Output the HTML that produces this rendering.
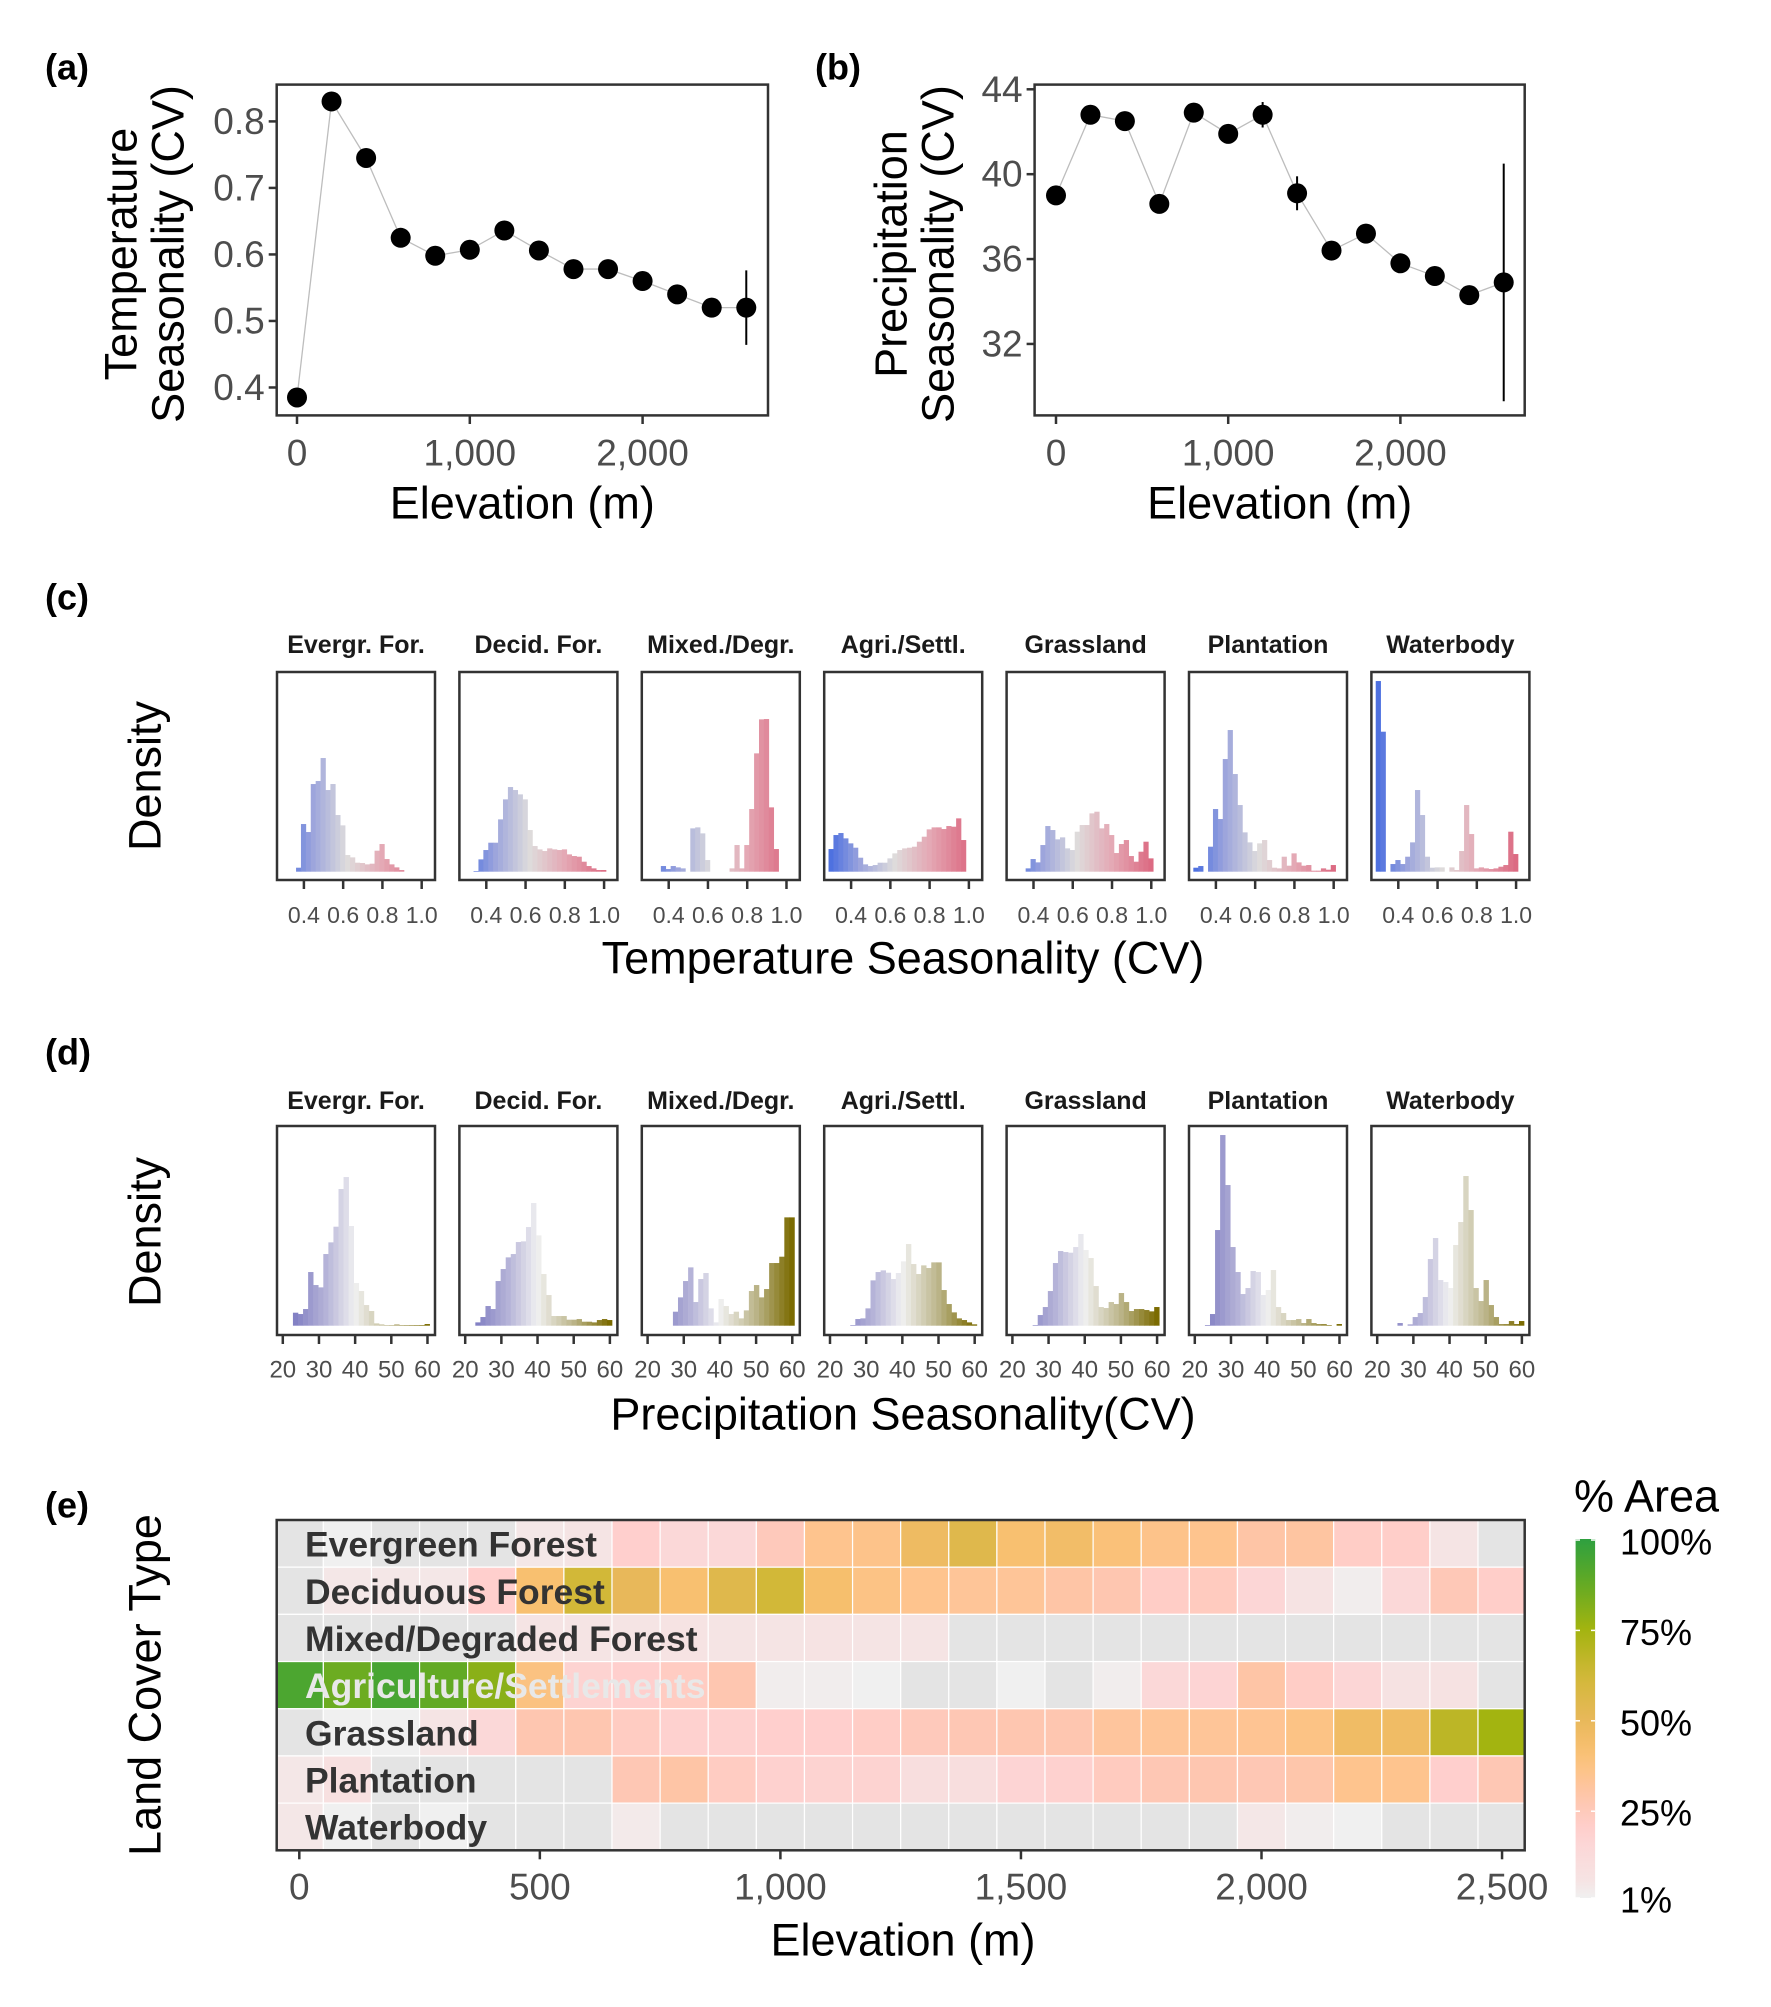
<!DOCTYPE html>
<html><head><meta charset="utf-8"><style>
html,body{margin:0;padding:0;background:#fff;}
svg{display:block;font-family:"Liberation Sans",sans-serif;}
</style></head><body>
<svg id="fig" width="1771" height="2007" viewBox="0 0 1771 2007"></svg>
<script>
// ---------- DATA ----------
const elev = [0,200,400,600,800,1000,1200,1400,1600,1800,2000,2200,2400,2600];
const tempSeason = [0.385,0.83,0.745,0.625,0.598,0.607,0.636,0.606,0.578,0.578,0.56,0.54,0.52,0.52];
const tempErr = [0,0,0,0,0,0,0,0,0,0,0,0,0,0.056];
const precSeason = [39.0,42.8,42.5,38.6,42.9,41.9,42.8,39.1,36.4,37.2,35.8,35.2,34.3,34.9];
const precErr = [0,0,0,0,0,0,0.6,0.8,0,0,0,0,0,5.6];
const ticksA = [0.4,0.5,0.6,0.7,0.8];
const ticksB = [32,36,40,44];
const ticksElev = [0,1000,2000];

const facets = ["Evergr. For.","Decid. For.","Mixed./Degr.","Agri./Settl.","Grassland","Plantation","Waterbody"];
const tBinStart = 0.285, tBinW = 0.025;
const tempHist = [
 [0,0,0,12,143,119,263,272,341,245,263,170,139,50,43,27,26,22,24,63,83,38,22,13,5],
 [0,0,2,37,65,87,87,157,217,254,245,232,217,125,77,67,62,70,67,65,67,52,47,45,30,17,10,5,5],
 [0,0,0,17,8,17,13,10,0,130,133,115,35,0,0,0,0,10,80,10,80,188,355,457,458,193,68],
 [68,110,116,100,85,72,42,22,17,20,27,27,40,55,65,70,72,75,90,105,127,133,133,128,137,135,160,95],
 [0,0,0,10,38,28,80,137,125,97,103,70,65,120,140,140,175,180,130,143,110,56,83,95,47,30,60,90,40],
 [12,17,0,75,188,158,338,425,293,200,118,88,62,85,95,35,12,10,45,18,55,28,18,20,3,3,10,6,20],
 [572,420,0,23,35,23,45,88,245,170,45,12,13,13,0,13,5,62,200,113,10,13,10,8,10,15,20,120,53]
];
const tTicks = [0.4,0.6,0.8,1.0];
const pBinStart = 22.8, pBinW = 1.4;
const precHist = [
 [39,35,50,161,122,115,215,250,297,410,446,299,128,104,62,44,7,4,2,2,4,2,2,2,2,2,5],
 [10,26,59,50,134,170,205,215,251,253,296,368,271,155,92,29,29,29,18,18,20,12,12,10,17,20,17],
 [0,0,0,42,85,134,175,71,140,158,52,10,80,59,35,42,22,46,104,122,85,110,188,188,207,325,325],
 [0,0,2,20,22,52,136,161,166,159,140,158,193,245,185,155,181,173,190,190,107,65,40,22,17,10,4],
 [0,0,2,32,56,104,188,224,221,219,236,275,227,203,119,56,53,71,65,98,71,44,50,50,47,43,56],
 [2,35,287,572,422,236,161,95,113,164,161,92,107,167,56,38,17,17,20,8,20,8,5,5,2,0,5],
 [0,0,8,0,4,26,38,86,200,263,137,131,113,242,311,449,347,113,74,137,62,26,5,5,14,5,14]
];
const pTicks = [20,30,40,50,60];

const landCover = ["Evergreen Forest","Deciduous Forest","Mixed/Degraded Forest","Agriculture/Settlements","Grassland","Plantation","Waterbody"];
const heatElev = [0,100,200,300,400,500,600,700,800,900,1000,1100,1200,1300,1400,1500,1600,1700,1800,1900,2000,2100,2200,2300,2400,2500];
const heatVals = [
 [null,0.01,null,null,null,0.04,0.05,0.2,0.15,0.15,0.25,0.35,0.36,0.47,0.55,0.42,0.45,0.40,0.36,0.35,0.30,0.31,0.22,0.21,0.05,null],
 [null,0.04,0.04,0.04,0.2,0.42,0.62,0.5,0.42,0.55,0.62,0.43,0.37,0.35,0.33,0.33,0.30,0.28,0.22,0.24,0.16,0.06,0.02,0.15,0.26,0.21],
 [null,null,null,null,null,0.05,0.05,0.05,0.06,0.05,0.05,0.06,0.05,0.05,null,null,null,null,null,null,null,null,null,null,null,null],
 [0.93,0.86,0.94,0.88,0.80,0.38,0.18,0.2,0.23,0.28,0.02,0.02,0.01,null,null,0.01,null,0.02,0.15,0.17,0.30,0.22,0.16,0.07,0.07,null],
 [null,0.01,0.01,0.05,0.15,0.28,0.28,0.23,0.19,0.19,0.2,0.2,0.22,0.25,0.27,0.28,0.28,0.32,0.33,0.33,0.34,0.37,0.46,0.46,0.68,0.75],
 [0.04,0.08,null,null,null,null,null,0.27,0.30,0.23,0.19,0.18,0.18,0.1,0.1,0.17,0.19,0.24,0.27,0.28,0.27,0.29,0.35,0.35,0.2,0.27],
 [0.04,0.01,null,0.01,null,null,null,0.03,null,null,null,null,null,null,null,null,null,null,null,null,0.04,0.02,0.01,null,null,null]
];
const heatTicks = [0,500,1000,1500,2000,2500];
const legendTicks = [1,25,50,75,100];

// ---------- HELPERS ----------
const svg = document.getElementById('fig');
const NS = 'http://www.w3.org/2000/svg';
function mk(tag, attrs, parent){ const e=document.createElementNS(NS,tag); for(const k in attrs) e.setAttribute(k,attrs[k]); (parent||svg).appendChild(e); return e; }
function txt(x,y,s,size,opts){ const o=Object.assign({x:x,y:y,'font-size':size,fill:'#000','text-anchor':'middle','dominant-baseline':'central'},opts||{}); const e=mk('text',o); e.textContent=s; return e; }
function hex(c){return [parseInt(c.slice(1,3),16),parseInt(c.slice(3,5),16),parseInt(c.slice(5,7),16)];}
function interp(stops,t){ if(t<=stops[0][0]) return stops[0][1]; for(let i=1;i<stops.length;i++){ if(t<=stops[i][0]){ const a=hex(stops[i-1][1]),b=hex(stops[i][1]); const f=(t-stops[i-1][0])/(stops[i][0]-stops[i-1][0]); return 'rgb('+a.map((v,j)=>Math.round(v+(b[j]-v)*f)).join(',')+')'; } } return stops[stops.length-1][1]; }
const heatStops=[[0.01,'#f0f0f0'],[0.05,'#f5e4e4'],[0.15,'#fbd8d8'],[0.2,'#ffcfcd'],[0.28,'#fec6b0'],[0.35,'#fec48e'],[0.42,'#f8c070'],[0.5,'#e8b85a'],[0.62,'#d2b838'],[0.75,'#a3b410'],[0.88,'#62aa24'],[1.0,'#2ea040']];
const tStops=[[0.29,'#4a6ee0'],[0.45,'#9ea6dc'],[0.62,'#dedcdc'],[0.8,'#e4a8b4'],[1.0,'#dc6a82']];
const pStops=[[22,'#7a78c0'],[32,'#b6b4d8'],[40,'#f0f0f0'],[50,'#bbb488'],[60,'#7a6a00']];

// ---------- PANEL LABELS ----------
[["(a)",45,67],["(b)",815,67],["(c)",45,597],["(d)",45,1052],["(e)",45,1505]].forEach(p=>{
  const t=txt(p[1],p[2],p[0],36,{'text-anchor':'start','font-weight':'bold'});
  
  
});

// ---------- PANEL A / B ----------
function scatterPanel(cfg){
  const g=mk('g',{});
  
  
  const xs=v=>cfg.x0+v*cfg.kx, ys=v=>cfg.y0+(cfg.ytop-v)*cfg.ky;
  mk('polyline',{points:elev.map((e,i)=>xs(e)+','+ys(cfg.vals[i])).join(' '),fill:'none',stroke:'#bdbdbd','stroke-width':1.3},g);
  elev.forEach((e,i)=>{
    if(cfg.err[i]>0){ const l=mk('line',{x1:xs(e),x2:xs(e),y1:ys(cfg.vals[i]-cfg.err[i]),y2:ys(cfg.vals[i]+cfg.err[i]),stroke:'#000','stroke-width':2},g);
      
       }
    const c=mk('circle',{cx:xs(e),cy:ys(cfg.vals[i]),r:10,fill:'#000'},g);
    
    
  });
  const fr=mk('rect',{x:cfg.L,y:84.6,width:cfg.R-cfg.L,height:330.8,fill:'none',stroke:'#333','stroke-width':2.5},g);
  
  
  cfg.yt.forEach(v=>{
    mk('line',{x1:cfg.L-8,x2:cfg.L,y1:ys(v),y2:ys(v),stroke:'#333','stroke-width':2.5},g);
    const t=txt(cfg.L-12,ys(v),String(v),37,{'text-anchor':'end',fill:'#4d4d4d'});
    
    
  });
  ticksElev.forEach(v=>{
    mk('line',{x1:xs(v),x2:xs(v),y1:415.4,y2:424,stroke:'#333','stroke-width':2.5},g);
    const t=txt(xs(v),453,v.toLocaleString('en-US'),37,{fill:'#4d4d4d'});
    
    
  });
  const xt=txt((cfg.L+cfg.R)/2,503,'Elevation (m)',45);
  
  
  cfg.ylab.forEach((s,i)=>{
    const x=cfg.ylx[i], y=254;
    const t=txt(x,y,s,45,{transform:'rotate(-90 '+x+' '+y+')'});
    
    
  });
}
scatterPanel({name:'panel-a-temperature-seasonality',vals:tempSeason,err:tempErr,x0:297,kx:0.1728,ytop:0.8,y0:121.4,ky:665.2,L:276.7,R:768,yt:ticksA,ylab:['Temperature','Seasonality (CV)'],ylx:[121,168]});
scatterPanel({name:'panel-b-precipitation-seasonality',vals:precSeason,err:precErr,x0:1056,kx:0.1722,ytop:44,y0:89.3,ky:21.22,L:1034.6,R:1524.7,yt:ticksB,ylab:['Precipitation','Seasonality (CV)'],ylx:[891,938]});

// ---------- PANELS C / D ----------
function histPanel(cfg){
  facets.forEach((f,fi)=>{
    const off=fi*182.4, L=277+off;
    const g=mk('g',{});
    
    
    const xs=v=>cfg.x0+off+(v-cfg.v0)*cfg.kx;
    cfg.hist[fi].forEach((h,bi)=>{
      if(h<=0) return;
      const a=cfg.bs+bi*cfg.bw, b=a+cfg.bw;
      const r=mk('rect',{x:xs(a),y:cfg.base-h/3,width:xs(b)-xs(a)+0.3,height:h/3,fill:interp(cfg.stops,a+cfg.bw/2)},g);
      
      
    });
    const fr=mk('rect',{x:L,y:cfg.top,width:158,height:cfg.bot-cfg.top,fill:'none',stroke:'#333','stroke-width':2.5},g);
    
    
    const st=txt(L+79,cfg.strip,f,25,{'font-weight':'bold',fill:'#1a1a1a'});
    
    
    cfg.ticks.forEach(v=>{
      mk('line',{x1:xs(v),x2:xs(v),y1:cfg.bot,y2:cfg.bot+9,stroke:'#333','stroke-width':2.5},g);
      const t=txt(xs(v),cfg.tl,cfg.fmt(v),cfg.tfs,{fill:'#4d4d4d'});
      
      
    });
  });
  const xt=txt(903,cfg.xt,cfg.title,45);
  
  
  const y=cfg.yc, yt=txt(145,y,'Density',45,{transform:'rotate(-90 145 '+y+')'});
  
  
}
histPanel({name:'panel-c',hist:tempHist,bs:tBinStart,bw:tBinW,v0:0.4,x0:303.9,kx:196.3,base:871.7,top:672,bot:880,strip:645,ticks:tTicks,fmt:v=>v.toFixed(1),tfs:23,tl:915,stops:tStops,title:'Temperature Seasonality (CV)',xt:958,yc:776});
histPanel({name:'panel-d',hist:precHist,bs:pBinStart,bw:pBinW,v0:20,x0:282.8,kx:3.617,base:1325.7,top:1126,bot:1335,strip:1101,ticks:pTicks,fmt:v=>String(v),tfs:24,tl:1370,stops:pStops,title:'Precipitation Seasonality(CV)',xt:1414,yc:1232});

// ---------- PANEL E HEATMAP ----------
(function(){
  const g=mk('g',{});
  
  
  const TOP=1520, BOT=1850.3, LFT=276.7, RGT=1524.7;
  const xs=v=>299.3+v*0.4811, rowH=(BOT-TOP)/7, cw=100*0.4811;
  heatVals.forEach((row,ri)=>{
    row.forEach((v,ci)=>{
      const c=mk('rect',{x:xs(heatElev[ci])-cw/2,y:TOP+ri*rowH,width:cw,height:rowH,fill:v==null?'#e4e4e4':interp(heatStops,v),stroke:'#fff','stroke-width':1.2},g);
      
      
    });
  });
  landCover.forEach((s,ri)=>{
    const t=txt(305,TOP+(ri+0.5)*rowH+1,s,35.5,{'text-anchor':'start','font-weight':'bold',fill:ri===3?'#e8e8e8':'#333'});
    
    
  });
  const fr=mk('rect',{x:LFT,y:TOP,width:RGT-LFT,height:BOT-TOP,fill:'none',stroke:'#333','stroke-width':2.5},g);
  
  
  heatTicks.forEach(v=>{
    mk('line',{x1:xs(v),x2:xs(v),y1:BOT,y2:BOT+9,stroke:'#333','stroke-width':2.5},g);
    const t=txt(xs(v),1887,v.toLocaleString('en-US'),37,{fill:'#4d4d4d'});
    
    
  });
  const xt=txt(903,1940,'Elevation (m)',45);
  
  
  const yt=txt(145,1685,'Land Cover Type',45,{transform:'rotate(-90 145 1685)'});
  
  

  const lg=mk('g',{});
  
  
  const defs=mk('defs',{},lg);
  const grad=mk('linearGradient',{id:'lgGrad',x1:0,y1:1,x2:0,y2:0},defs);
  for(let i=0;i<=20;i++){ const v=0.01+0.99*i/20; mk('stop',{offset:(i/20),'stop-color':interp(heatStops,v)},grad); }
  const ly=v=>1898-(v-1)/99*358;
  const bar=mk('rect',{x:1575.6,y:1539,width:19.5,height:359,fill:'url(#lgGrad)'},lg);
  
  
  legendTicks.forEach(v=>{
    mk('line',{x1:1575.6,x2:1580,y1:ly(v),y2:ly(v),stroke:'#fff','stroke-width':1.5},lg);
    mk('line',{x1:1591,x2:1595,y1:ly(v),y2:ly(v),stroke:'#fff','stroke-width':1.5},lg);
    const t=txt(1620,ly(v)+2,v+'%',36,{'text-anchor':'start',fill:'#000'});
    
    
  });
  const lt=txt(1574,1496,'% Area',45,{'text-anchor':'start'});
  
  
})();
</script>
</body></html>
